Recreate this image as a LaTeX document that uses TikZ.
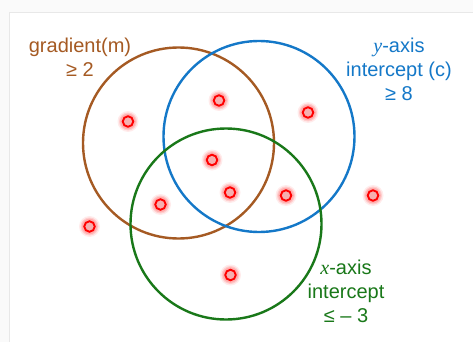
\documentclass[tikz,border=0pt]{standalone}
\usepackage{fontspec}
\setmainfont{Liberation Sans}
\newfontfamily\serifface{Liberation Serif}
\definecolor{brownc}{RGB}{165,90,35}
\definecolor{bluec}{RGB}{20,120,200}
\definecolor{greenc}{RGB}{25,120,25}
\definecolor{dotfill}{RGB}{245,175,175}
\definecolor{bgc}{RGB}{250,250,250}
\definecolor{panelc}{RGB}{232,232,232}
\newcommand{\vit}[1]{{\serifface\itshape #1}}
\tikzset{
  setc/.style={circle,draw=#1,line width=2.4pt,minimum size=191pt,inner sep=0pt},
  lbl/.style={align=center,text=#1,font=\fontsize{20}{24}\selectfont,inner sep=0pt},
  dotc/.style={circle,draw=red,fill=dotfill,line width=1.9pt,minimum size=10.5pt,inner sep=0pt},
}
\newcommand{\glowdot}[2]{%
  \fill[red,opacity=0.08] (#2) circle (10.5pt);
  \fill[red,opacity=0.12] (#2) circle (9pt);
  \fill[red,opacity=0.15] (#2) circle (7.8pt);
  \node[dotc] (#1) at (#2) {};
}
\begin{document}
\begin{tikzpicture}[x=1pt,y=-1pt]
\useasboundingbox (0,0) rectangle (473,342);
\fill[bgc] (0,0) rectangle (473,342);
\filldraw[fill=white,draw=panelc,line width=0.8pt] (9,12) rectangle (480,350);
\node[setc=brownc] (grad) at (178.5,143) {};
\node[setc=bluec] (yint) at (259,136.5) {};
\node[setc=greenc] (xint) at (226,224) {};
\glowdot{d1}{128,121.5}
\glowdot{d2}{219,100.5}
\glowdot{d3}{308,112.5}
\glowdot{d4}{212,160}
\glowdot{d5}{230,192.5}
\glowdot{d6}{286,195.5}
\glowdot{d7}{373,195.5}
\glowdot{d8}{160.5,204.5}
\glowdot{d9}{89.5,226.5}
\glowdot{d10}{230.5,275}
\node[lbl=brownc] (gradlbl) at (80,57) {gradient(m)\\≥ 2};
\node[lbl=bluec] (ylbl) at (399,69) {\vit{y}-axis\\intercept (c)\\≥ 8};
\node[lbl=greenc] (xlbl) at (346,291) {\vit{x}-axis\\intercept\\≤ – 3};
\end{tikzpicture}
\end{document}
